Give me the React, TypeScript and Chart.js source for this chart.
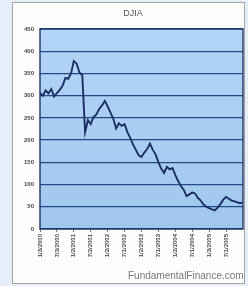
import React, { useEffect, useRef } from "react";
import { Chart, registerables } from "chart.js";

Chart.register(...registerables);

const chartTitle = "DJIA";
const watermark = "FundamentalFinance.com";
const tickLabels = [
  "1/3/2000", "7/3/2000", "1/2/2001", "7/2/2001", "1/2/2002", "7/1/2002",
  "1/2/2003", "7/1/2003", "1/2/2004", "7/1/2004", "1/3/2005", "7/1/2005",
];
const pointsPerTick = 6;
const prices = [
  306, 300, 312, 305, 315, 298, 306, 313, 322, 340, 338, 350, 378, 372, 352, 346,
  218, 245, 236, 252, 258, 270, 278, 288, 276, 262, 248, 226, 238, 232, 236, 218,
  205, 190, 178, 166, 162, 172, 180, 192, 178, 168, 150, 136, 126, 140, 134, 137,
  121, 108, 96, 88, 74, 78, 82, 80, 70, 64, 55, 50, 47, 44, 42, 48,
  56, 66, 72, 68, 64, 62, 60, 58, 60,
];
const yTicks = [0, 50, 100, 150, 200, 250, 300, 350, 400, 450];

export default function App() {
  const ref = useRef<HTMLCanvasElement | null>(null);
  useEffect(() => {
    if (!ref.current) return;
    const decor = {
      id: "decor",
      beforeDraw(chart: any) {
        const c = chart.ctx;
        const a = chart.chartArea;
        c.save();
        c.fillStyle = "#e6eef9";
        c.fillRect(0, 0, chart.width, chart.height);
        c.fillStyle = "#fdfdfb";
        c.fillRect(12, 2, 232, 282);
        c.strokeStyle = "#a4a4a4";
        c.lineWidth = 1;
        c.strokeRect(12.5, 2.5, 232, 281);
        const g = c.createLinearGradient(0, a.top, 0, a.bottom);
        g.addColorStop(0, "#b3d5f6");
        g.addColorStop(1, "#a0c7ee");
        c.fillStyle = g;
        c.fillRect(a.left, a.top, a.right - a.left, a.bottom - a.top);
        c.restore();
      },
      afterDraw(chart: any) {
        const c = chart.ctx;
        const a = chart.chartArea;
        c.save();
        c.strokeStyle = "#1e3566";
        c.lineWidth = 1.4;
        c.strokeRect(a.left, a.top, a.right - a.left, a.bottom - a.top);
        c.fillStyle = "#555";
        c.font = "9px 'Liberation Sans', Arial, sans-serif";
        c.textAlign = "center";
        c.textBaseline = "middle";
        c.fillText(chartTitle, 133, 14);
        c.fillStyle = "#777";
        c.font = "10px 'Liberation Sans', Arial, sans-serif";
        c.textAlign = "left";
        c.fillText(watermark, 128, 276);
        c.restore();
      },
    };
    const chart = new Chart(ref.current, {
      type: "line",
      data: {
        datasets: [
          {
            data: prices.map((v, i) => ({ x: i, y: v })),
            borderColor: "#1b2f66",
            borderWidth: 1.9,
            pointRadius: 0,
            tension: 0,
          },
        ],
      },
      options: {
        animation: false,
        responsive: false,
        maintainAspectRatio: false,
        layout: { padding: { left: 13, right: 5, top: 29, bottom: 20 } },
        plugins: { legend: { display: false }, tooltip: { enabled: false }, title: { display: false } },
        scales: {
          x: {
            type: "linear",
            min: 0,
            max: prices.length - 1,
            afterFit: (s: any) => { s.height = 37; },
            afterBuildTicks: (s: any) => {
              s.ticks = tickLabels.map((_, i) => ({ value: i * pointsPerTick }));
            },
            ticks: {
              autoSkip: false,
              maxRotation: 90,
              minRotation: 90,
              padding: 2,
              color: "#444",
              font: { size: 6, family: "'Liberation Sans', Arial, sans-serif", weight: "bold" },
              callback: (v: any) => tickLabels[Math.round(Number(v) / pointsPerTick)] ?? "",
            },
            grid: { drawOnChartArea: false, drawTicks: true, tickLength: 3, color: "#777" },
            border: { display: false },
          },
          y: {
            min: 0,
            max: 450,
            afterFit: (s: any) => { s.width = 27; },
            afterBuildTicks: (s: any) => {
              s.ticks = yTicks.map((v) => ({ value: v }));
            },
            ticks: {
              padding: 6,
              color: "#444",
              font: { size: 6, family: "'Liberation Sans', Arial, sans-serif", weight: "bold" },
            },
            grid: { color: "#244a86", lineWidth: 1.3, drawTicks: false },
            border: { display: false },
          },
        },
      },
      plugins: [decor],
    });
    return () => chart.destroy();
  }, []);
  return (
    <div style={{ position: "fixed", left: 0, top: 0, width: 248, height: 286 }}>
      <canvas ref={ref} width={248} height={286} style={{ width: 248, height: 286, display: "block" }} />
    </div>
  );
}
